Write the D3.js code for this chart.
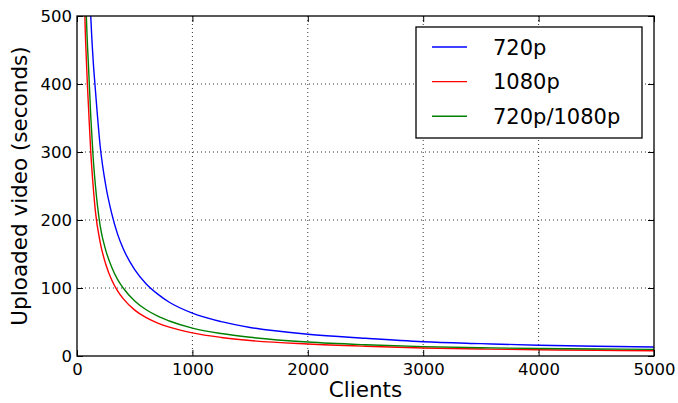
<!DOCTYPE html>
<html>
<head>
<meta charset="utf-8">
<script src="https://cdn.jsdelivr.net/npm/d3@7"></script>
<style>
  html, body { margin: 0; padding: 0; background: #fff; overflow: hidden; }
  svg { display: block; }
  text { font-family: "DejaVu Sans", sans-serif; fill: #000; }
</style>
</head>
<body>
<svg id="chart"></svg>
<script>
// values
const clients = [60, 70, 80, 90, 100, 120, 140, 160, 200, 250, 300, 350, 400, 500, 600, 700, 800, 1000, 1250, 1500, 2000, 2500, 3000, 3500, 4000, 4500, 5000];
const video720 = [1000, 860, 750, 660, 590, 497, 435, 390, 310, 250, 210, 180, 158, 127, 106, 91, 79, 63, 50.5, 42, 32, 26, 21, 18.2, 15.8, 14.3, 13.2];
const video1080 = [565, 488, 440, 400, 365, 298, 250, 212, 168, 134.5, 112, 96, 84.3, 67.5, 56.3, 48.4, 42.4, 34, 27.3, 22.7, 17.6, 14.3, 11.8, 10.3, 9.2, 8.4, 7.8];
const videoMixed = [660, 575, 505, 460, 425, 350, 292, 250, 192, 155, 131, 113, 100, 81, 68, 58.5, 51.5, 41, 33, 27.5, 20.5, 16.5, 13.8, 12.2, 11, 10.3, 9.8];
const seriesNames = ['720p', '1080p', '720p/1080p'];
const seriesColors = ['#0000ff', '#ff0000', '#008000'];
const xTicks = [0, 1000, 2000, 3000, 4000, 5000];
const yTicks = [0, 100, 200, 300, 400, 500];

const width = 678;
const height = 403;
const margin = { top: 16, right: 24, bottom: 47, left: 77 };
const innerWidth = width - margin.left - margin.right;
const innerHeight = height - margin.top - margin.bottom;

const svg = d3.select('#chart')
  .attr('width', width)
  .attr('height', height);

const xScale = d3.scaleLinear().domain([0, 5000]).range([0, innerWidth]);
const yScale = d3.scaleLinear().domain([0, 500]).range([innerHeight, 0]);

const g = svg.append('g')
  .attr('transform', `translate(${margin.left}, ${margin.top})`);

g.append('clipPath').attr('id', 'clip')
  .append('rect').attr('width', innerWidth).attr('height', innerHeight);

// grid
g.append('g')
  .selectAll('line')
  .data(xTicks.slice(1, -1))
  .enter().append('line')
  .attr('x1', d => xScale(d)).attr('x2', d => xScale(d))
  .attr('y1', 0).attr('y2', innerHeight)
  .attr('stroke', '#000').attr('stroke-width', 0.8)
  .attr('stroke-dasharray', '1,3');

g.append('g')
  .selectAll('line')
  .data(yTicks.slice(1, -1))
  .enter().append('line')
  .attr('y1', d => yScale(d)).attr('y2', d => yScale(d))
  .attr('x1', 0).attr('x2', innerWidth)
  .attr('stroke', '#000').attr('stroke-width', 0.8)
  .attr('stroke-dasharray', '1,3');

// lines
const seriesValues = [video720, video1080, videoMixed];
const line = d3.line()
  .x(d => xScale(d[0]))
  .y(d => yScale(d[1]))
  .curve(d3.curveMonotoneX);

seriesValues.forEach((vals, i) => {
  g.append('path')
    .datum(clients.map((c, j) => [c, vals[j]]))
    .attr('clip-path', 'url(#clip)')
    .attr('fill', 'none')
    .attr('stroke', seriesColors[i])
    .attr('stroke-width', 1.4)
    .attr('d', line);
});

// axes with inward ticks on all four sides
const tickLen = 6;
const xAxis = d3.axisBottom(xScale).tickValues(xTicks).tickFormat(d3.format('d'))
  .tickSizeInner(-tickLen).tickSizeOuter(0).tickPadding(7);
const yAxis = d3.axisLeft(yScale).tickValues(yTicks).tickFormat(d3.format('d'))
  .tickSizeInner(-tickLen).tickSizeOuter(0).tickPadding(5);

g.append('g')
  .attr('transform', `translate(0, ${innerHeight})`)
  .call(xAxis);
g.append('g').call(yAxis);

const topAxis = g.append('g')
  .call(d3.axisTop(xScale).tickValues(xTicks).tickSizeInner(-tickLen).tickSizeOuter(0));
const rightAxis = g.append('g')
  .attr('transform', `translate(${innerWidth}, 0)`)
  .call(d3.axisRight(yScale).tickValues(yTicks).tickSizeInner(-tickLen).tickSizeOuter(0));
topAxis.selectAll('text').remove();
rightAxis.selectAll('text').remove();

g.selectAll('.domain').remove();
g.selectAll('.tick line').attr('stroke', '#000').attr('stroke-width', 1);
g.selectAll('.tick text')
  .style('font-family', '"DejaVu Sans", sans-serif')
  .style('font-size', '16.5px')
  .attr('fill', '#000');

// frame
g.append('rect')
  .attr('width', innerWidth).attr('height', innerHeight)
  .attr('fill', 'none').attr('stroke', '#000').attr('stroke-width', 1.3);

// axis titles
svg.append('text')
  .attr('x', margin.left + innerWidth / 2)
  .attr('y', 397)
  .attr('text-anchor', 'middle')
  .style('font-size', '21.5px')
  .text('Clients');

svg.append('text')
  .attr('transform', 'rotate(-90)')
  .attr('x', -(margin.top + innerHeight / 2))
  .attr('y', 27)
  .attr('text-anchor', 'middle')
  .style('font-size', '21.5px')
  .text('Uploaded video (seconds)');

// legend
const legend = svg.append('g').attr('transform', 'translate(416, 27)');
legend.append('rect')
  .attr('width', 226).attr('height', 111)
  .attr('fill', '#fff').attr('stroke', '#000').attr('stroke-width', 1.3);

seriesNames.forEach((name, i) => {
  const y = 20 + i * 34.6;
  legend.append('line')
    .attr('x1', 16).attr('x2', 51)
    .attr('y1', y).attr('y2', y)
    .attr('stroke', seriesColors[i]).attr('stroke-width', 1.4);
  legend.append('text')
    .attr('x', 77).attr('y', y + 7.5)
    .style('font-size', '21px')
    .text(name);
});
</script>
</body>
</html>
